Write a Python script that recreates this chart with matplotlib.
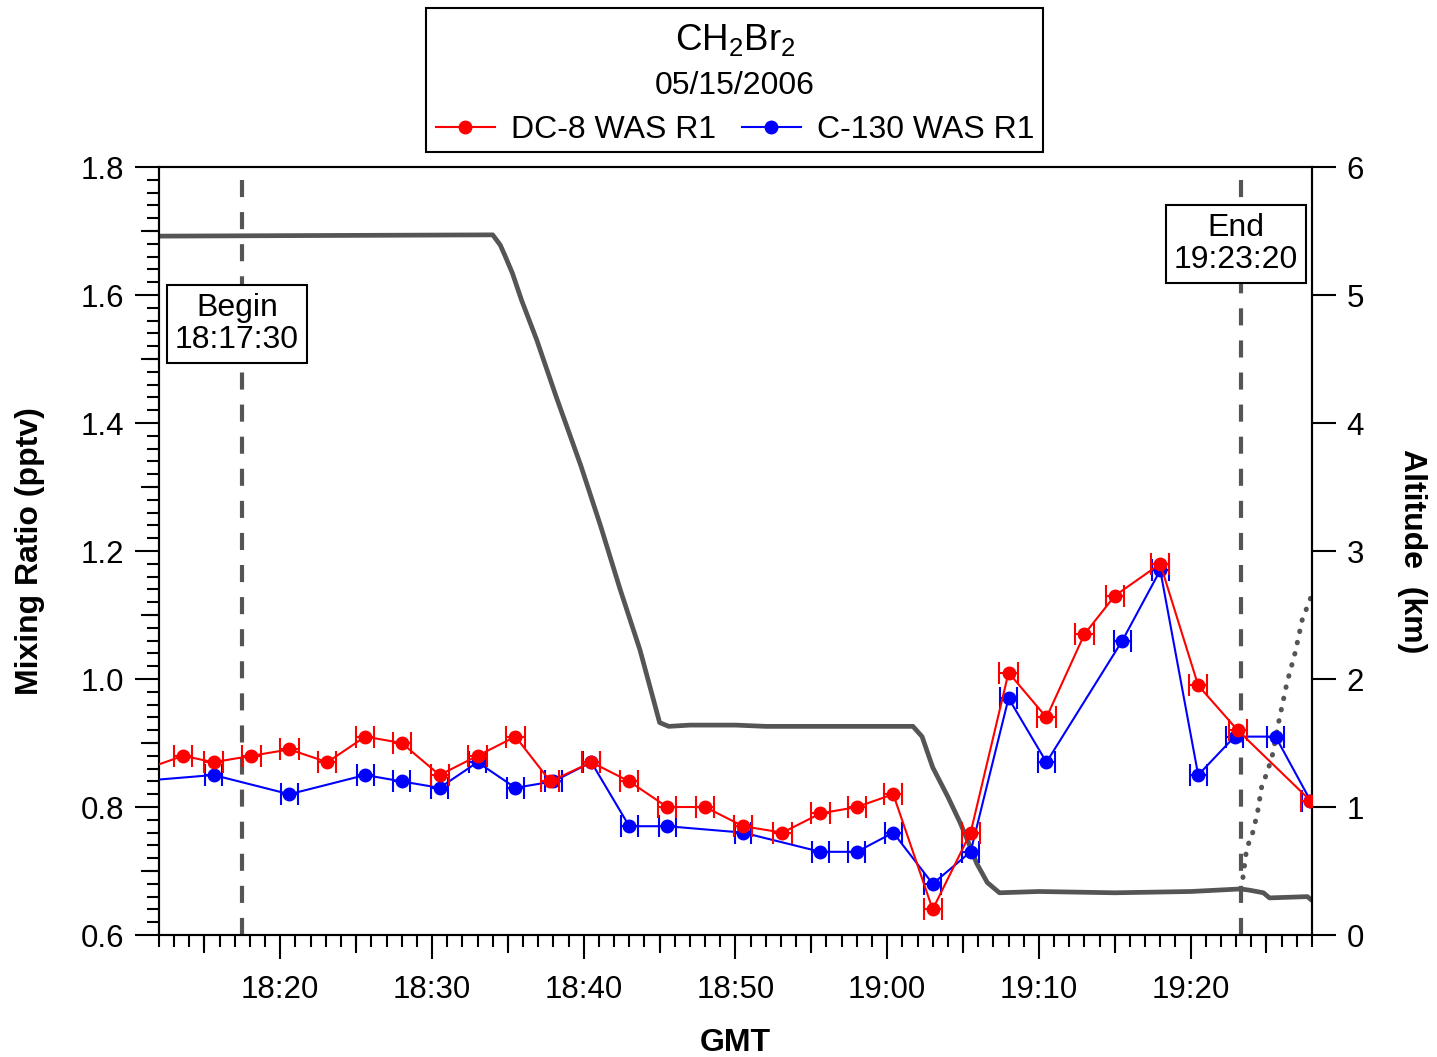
import matplotlib
matplotlib.use('Agg')
import matplotlib.pyplot as plt
from matplotlib.patches import Rectangle
from matplotlib.lines import Line2D
from matplotlib.ticker import MultipleLocator, FixedLocator, NullFormatter, NullLocator, FormatStrFormatter

plt.rcParams['font.family'] = ['Liberation Sans', 'DejaVu Sans']
plt.rcParams['mathtext.fontset'] = 'custom'
plt.rcParams['mathtext.rm'] = 'Liberation Sans'
plt.rcParams['mathtext.it'] = 'Liberation Sans:italic'
plt.rcParams['mathtext.bf'] = 'Liberation Sans:bold'

# ---------------- data (time = minutes after 18:00 GMT) ----------------
dc8_time = [10.6, 13.6, 15.6, 18.1, 20.6, 23.1, 25.6, 28.0, 30.5, 33.0, 35.5, 37.8, 40.5,
            43.0, 45.5, 48.0, 50.5, 53.1, 55.6, 58.0, 60.4, 63.0, 65.5, 68.0, 70.5,
            73.0, 75.0, 78.0, 80.5, 83.1, 87.9]
dc8_ratio = [0.855, 0.88, 0.87, 0.88, 0.89, 0.87, 0.91, 0.90, 0.85, 0.88, 0.91, 0.84, 0.87,
             0.84, 0.80, 0.80, 0.77, 0.76, 0.79, 0.80, 0.82, 0.64, 0.76, 1.01, 0.94,
             1.07, 1.13, 1.18, 0.99, 0.92, 0.81]
dc8_xerr = 0.6

c130_time = [10.5, 15.6, 20.6, 25.6, 28.0, 30.5, 33.0, 35.5, 38.0, 40.5, 43.0, 45.5,
             50.5, 55.6, 58.0, 60.4, 63.0, 65.5, 68.0, 70.5, 75.5, 78.0, 80.5, 82.9,
             85.6, 87.9]
c130_ratio = [0.84, 0.85, 0.82, 0.85, 0.84, 0.83, 0.87, 0.83, 0.84, 0.87, 0.77, 0.77,
              0.76, 0.73, 0.73, 0.76, 0.68, 0.73, 0.97, 0.87, 1.06, 1.17, 0.85, 0.91,
              0.91, 0.81]
c130_xerr = 0.55

alt_time = [12.0, 34.0, 34.5, 34.8, 35.3, 35.9, 36.9, 38.2,
            39.8, 41.1, 42.4, 43.7, 44.5, 45.0, 45.6, 47.0, 50.0, 52.0, 55.0, 58.0,
            61.7, 62.3, 63.0, 64.0, 64.8, 65.3, 65.9, 66.6, 67.4, 70.0, 75.0, 80.0,
            83.3, 83.9, 84.8, 85.2, 87.7, 88.0]
alt_km = [5.46, 5.47, 5.39, 5.31, 5.17, 4.96, 4.65, 4.20,
          3.67, 3.20, 2.70, 2.23, 1.88, 1.66, 1.63, 1.64, 1.64, 1.63, 1.63, 1.63,
          1.63, 1.55, 1.31, 1.08, 0.88, 0.74, 0.56, 0.41, 0.33, 0.34, 0.33, 0.34,
          0.36, 0.35, 0.33, 0.29, 0.30, 0.27]

alt2_time = [83.45, 83.7, 84.05, 84.4, 84.7, 85.05, 85.4, 85.8, 86.35, 86.9, 87.35, 87.9]
alt2_km = [0.45, 0.68, 0.78, 0.95, 1.17, 1.27, 1.41, 1.66, 1.97, 2.21, 2.46, 2.63]

begin_label, begin_time = '18:17:30', 17.5
end_label, end_time = '19:23:20', 83 + 20 / 60

xlim = (12, 88)
xtick_pos = [20, 30, 40, 50, 60, 70, 80]
xtick_labels = ['18:20', '18:30', '18:40', '18:50', '19:00', '19:10', '19:20']
ylim_left = (0.6, 1.8)
ylim_right = (0, 6)

# ---------------- figure ----------------
fig = plt.figure(figsize=(14.37, 10.57), dpi=100)
ax = fig.add_axes([0.1106, 0.1154, 0.8024, 0.7266])
ax2 = ax.twinx()
ax.set_zorder(ax2.get_zorder() + 1)
ax.patch.set_visible(False)

grey = '#555555'
ax2.plot(alt_time, alt_km, color=grey, lw=3.4, solid_capstyle='round', solid_joinstyle='round')
ax2.plot(alt2_time, alt2_km, color=grey, lw=3.6, ls=(0, (0.1, 2.2)), dash_capstyle='round')
ax2.set_ylim(*ylim_right)
ax2.set_yticks(range(0, 7))

ax.errorbar(c130_time, c130_ratio, xerr=c130_xerr, fmt='-o', color='#0000ff', ms=9,
            lw=1.5, elinewidth=1.5, capsize=8, capthick=1.5, zorder=3)
ax.errorbar(dc8_time, dc8_ratio, xerr=dc8_xerr, fmt='-o', color='#ff0000', ms=9,
            lw=1.5, elinewidth=1.5, capsize=8, capthick=1.5, zorder=4)

for t in (begin_time, end_time):
    ax.axvline(t, color=grey, lw=3, ls=(0, (4.1, 3.6)), zorder=2)

box = dict(boxstyle='square,pad=0.25', fc='white', ec='black', lw=1.5)
ax.text(0.0676, 0.7955, 'Begin\n' + begin_label, transform=ax.transAxes, ha='center',
        va='center', fontsize=23, linespacing=1.08, bbox=box, zorder=6)
ax.text(0.934, 0.8995, 'End\n' + end_label, transform=ax.transAxes, ha='center',
        va='center', fontsize=23, linespacing=1.08, bbox=box, zorder=6)

ax.set_xlim(*xlim)
ax.set_ylim(*ylim_left)
ax.set_xticks(xtick_pos)
ax.set_xticklabels(xtick_labels)
ax.xaxis.set_minor_locator(MultipleLocator(1))
ax.set_yticks([0.6, 0.8, 1.0, 1.2, 1.4, 1.6, 1.8])
ax.yaxis.set_major_formatter(FormatStrFormatter('%.1f'))
ax.yaxis.set_minor_locator(MultipleLocator(0.02))

for a in (ax, ax2):
    for s in a.spines.values():
        s.set_linewidth(1.5)

ax.tick_params(which='major', direction='out', length=17, width=1.5, pad=8, labelsize=22.5)
ax.tick_params(axis='x', which='major', pad=12)
ax.tick_params(which='minor', direction='out', length=8.5, width=1.5)
ax2.tick_params(which='major', direction='out', length=17, width=1.5, pad=8, labelsize=22.5)
ax2.yaxis.set_minor_locator(NullLocator())

# medium ticks
secx = ax.secondary_xaxis('bottom')
secx.xaxis.set_major_locator(FixedLocator([15, 25, 35, 45, 55, 65, 75, 85]))
secx.xaxis.set_major_formatter(NullFormatter())
secx.xaxis.set_minor_locator(NullLocator())
secx.tick_params(length=13, width=1.5, direction='out')
secx.spines['bottom'].set_visible(False)

secy = ax.secondary_yaxis('left')
secy.yaxis.set_major_locator(FixedLocator([0.7, 0.9, 1.1, 1.3, 1.5, 1.7]))
secy.yaxis.set_major_formatter(NullFormatter())
secy.yaxis.set_minor_locator(NullLocator())
secy.tick_params(length=13, width=1.5, direction='out')
secy.spines['left'].set_visible(False)

ax.set_xlabel('GMT', fontsize=23, fontweight='bold')
ax.xaxis.set_label_coords(0.5, -0.121)
ax.set_ylabel('Mixing Ratio (pptv)', fontsize=23, fontweight='bold')
ax.yaxis.set_label_coords(-0.099, 0.5)
ax2.set_ylabel('Altitude  (km)', fontsize=23, fontweight='bold', rotation=270, va='bottom')
ax2.yaxis.set_label_coords(1.074, 0.5)

# legend box at top
fig.add_artist(Rectangle((426 / 1437, 1 - 152 / 1057), 617 / 1437, 144 / 1057,
                         transform=fig.transFigure, fill=False, ec='black', lw=1.5))
fig.text(0.5115, 0.962, r'CH$_2$Br$_2$', ha='center', va='center', fontsize=26.5)
fig.text(0.5115, 0.9185, '05/15/2006', ha='center', va='center', fontsize=23)
handles = [Line2D([], [], color='#ff0000', marker='o', ms=9, lw=1.5),
           Line2D([], [], color='#0000ff', marker='o', ms=9, lw=1.5)]
fig.legend(handles, ['DC-8 WAS R1', 'C-130 WAS R1'], loc='center',
           bbox_to_anchor=(0.5115, 0.877), ncol=2, frameon=False, fontsize=23,
           handlelength=1.85, handletextpad=0.5, columnspacing=0.8)

fig.savefig('out.png', dpi=100)
